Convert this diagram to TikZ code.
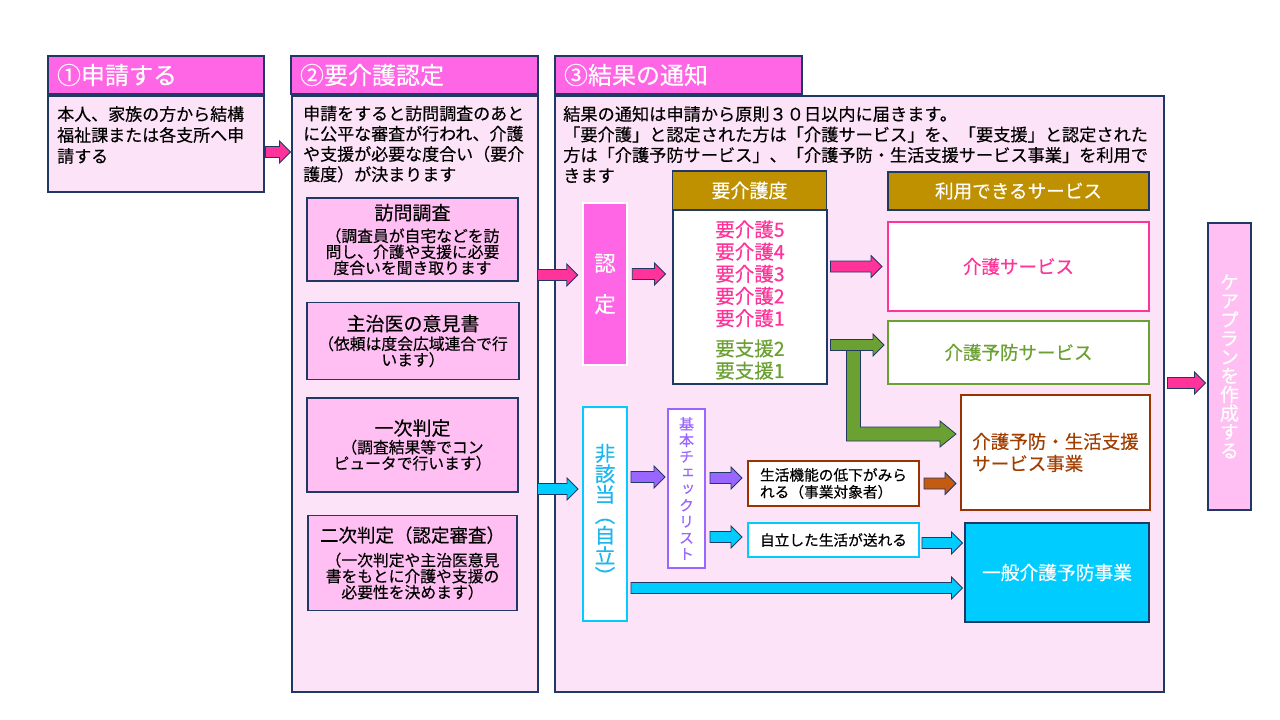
\documentclass[tikz,border=0pt]{standalone}
\usepackage{fontspec}
\setmainfont{Noto Sans CJK JP}[FakeBold=0.35]
\newfontfamily\tatefont[RawFeature=+vert, FakeBold=0.35]{Noto Sans CJK JP}
\usetikzlibrary{calc}
\setlength{\lineskiplimit}{-20pt}
\definecolor{navy}{HTML}{203864}
\definecolor{hdrmag}{HTML}{FF66E6}
\definecolor{bodypink}{HTML}{FDE3F8}
\definecolor{subpink}{HTML}{FFBFF2}
\definecolor{pinkA}{HTML}{FF3399}
\definecolor{gold}{HTML}{BF9000}
\definecolor{leaf}{HTML}{6BA132}
\definecolor{rust}{HTML}{993300}
\definecolor{rusttext}{HTML}{A23D00}
\definecolor{orangeA}{HTML}{C55A11}
\definecolor{cyanA}{HTML}{00CCFF}
\definecolor{cyantext}{HTML}{1DB6EE}
\definecolor{violet}{HTML}{9966FF}

\begin{document}
\begin{tikzpicture}[x=1pt, y=-1pt,
  box/.style={draw=navy, line width=1.1pt, inner sep=0pt, align=center},
  hdr/.style={box, fill=hdrmag, text=white, minimum height=38pt, inner xsep=9pt, align=left, text width=#1, font=\fontsize{24}{28}\selectfont},
  txt/.style={align=left, inner sep=0pt, font=\fontsize{17}{21}\selectfont},
  sub/.style={box, fill=subpink, font=\fontsize{15.8}{16}\selectfont},
  colbox/.style={draw=#1, line width=2pt, fill=white, inner sep=0pt, align=center},
  barrow/.style={draw=navy, line width=0.8pt, fill=#1, to path={
    let \p1=(\tikztostart), \p2=(\tikztotarget) in
    (\x1,\y1+5.5pt) -- (\x2-11pt,\y1+5.5pt) -- (\x2-11pt,\y1+11pt) -- (\x2,\y1)
    -- (\x2-11pt,\y1-11pt) -- (\x2-11pt,\y1-5.5pt) -- (\x1,\y1-5.5pt) -- cycle}},
  elbow/.style={draw=navy, line width=0.8pt, fill=leaf, to path={
    let \p1=(\tikztostart), \p2=(\tikztotarget) in
    (\x1-7pt,\y1) -- (\x1-7pt,\y2-7pt) -- (\x2-16pt,\y2-7pt) -- (\x2-16pt,\y2-13pt) -- (\x2,\y2)
    -- (\x2-16pt,\y2+13pt) -- (\x2-16pt,\y2+7pt) -- (\x1+7pt,\y2+7pt) -- (\x1+7pt,\y1) -- cycle}}]
\useasboundingbox[fill=white] (0,0) rectangle (1280,720);

\node[hdr=198pt] (h1) at (156,75) {①申請する};
\node[box, fill=bodypink, minimum width=216pt, minimum height=96pt] (b1) at (156,144) {};
\node[txt, anchor=west] (t1) at (57,135) {本人、家族の方から結構\\福祉課または各支所へ申\\請する};

\node[hdr=229pt] (h2) at (414.5,75) {②要介護認定};
\node[box, fill=bodypink, minimum width=246pt, minimum height=596pt] (b2) at (415,394) {};
\node[txt, anchor=west, font=\fontsize{17}{20.3}\selectfont] (t2) at (303,144) {申請をすると訪問調査のあと\\に公平な審査が行われ、介護\\や支援が必要な度合い（要介\\護度）が決まります};
\node[sub, minimum width=211pt, minimum height=83pt] (s1) at (412.5,239.5) {{\fontsize{19}{19}\selectfont 訪問調査}\\[6pt]（調査員が自宅などを訪\\問し、介護や支援に必要\\度合いを聞き取ります};
\node[sub, minimum width=212pt, minimum height=77pt] (s2) at (413,341) {{\fontsize{19}{19}\selectfont 主治医の意見書}\\[3pt]（依頼は度会広域連合で行\\います）};
\node[sub, minimum width=211pt, minimum height=94pt] (s3) at (412.5,445) {{\fontsize{19}{19}\selectfont 一次判定}\\[2pt]（調査結果等でコン\\ピュータで行います）};
\node[sub, minimum width=209pt, minimum height=95pt] (s4) at (412.5,563) {{\fontsize{18.5}{19}\selectfont 二次判定（認定審査）}\\[8pt]（一次判定や主治医意見\\書をもとに介護や支援の\\必要性を決めます）};

\node[hdr=229pt] (h3) at (678.5,75) {③結果の通知};
\node[box, fill=bodypink, minimum width=609pt, minimum height=596pt] (b3) at (859.5,394) {};
\node[txt, anchor=west, font=\fontsize{17.2}{20.5}\selectfont] (t3) at (563,144.5) {結果の通知は申請から原則３０日以内に届きます。\\「要介護」と認定された方は「介護サービス」を、「要支援」と認定された\\方は「介護予防サービス」、「介護予防・生活支援サービス事業」を利用で\\きます};

\node[draw=white, line width=2.5pt, fill=hdrmag, text=white, inner sep=0pt, align=center, minimum width=44pt, minimum height=162pt, font=\fontsize{21.5}{41}\selectfont] (nintei) at (605,284) {認\\定};
\node[box, fill=gold, text=white, minimum width=154pt, minimum height=39pt, font=\fontsize{19}{22}\selectfont] (lvlh) at (749.5,190.5) {要介護度};
\node[box, fill=white, minimum width=154pt, minimum height=174pt] (lvl) at (750,297) {};
\node[align=center, inner sep=0pt, font=\fontsize{19.5}{22.2}\selectfont] (lvltx) at (750,300) {\textcolor{pinkA}{要介護5}\\\textcolor{pinkA}{要介護4}\\\textcolor{pinkA}{要介護3}\\\textcolor{pinkA}{要介護2}\\\textcolor{pinkA}{要介護1}\\[8pt]\textcolor{leaf}{要支援2}\\\textcolor{leaf}{要支援1}};
\node[box, fill=gold, text=white, minimum width=261pt, minimum height=38pt, font=\fontsize{18.6}{22}\selectfont] (srvh) at (1018.5,191) {利用できるサービス};
\node[colbox=pinkA, text=pinkA, minimum width=261pt, minimum height=89pt, font=\fontsize{18.5}{22}\selectfont] (ksv) at (1018.5,266.5) {介護サービス};
\node[colbox=leaf, text=leaf, minimum width=261pt, minimum height=63pt, font=\fontsize{18.5}{22}\selectfont] (ysv) at (1018.5,352.5) {介護予防サービス};
\node[colbox=rust, text=rusttext, align=left, minimum width=189pt, minimum height=115pt, font=\fontsize{18.5}{22}\selectfont] (yob) at (1055.5,452.5) {介護予防・生活支援\\サービス事業};

\node[colbox=cyanA, text=cyantext, minimum width=44pt, minimum height=214pt, font=\tatefont\fontsize{20.5}{20.5}\selectfont] (hgt) at (605,514) {非\\該\\当\\（\\自\\立\\）};
\node[colbox=violet, text=violet, minimum width=37pt, minimum height=159pt, font=\tatefont\fontsize{15}{16.25}\selectfont] (chk) at (686.5,488.5) {基\\本\\チ\\ェ\\ッ\\ク\\リ\\ス\\ト};
\node[colbox=rust, align=left, minimum width=171pt, minimum height=45pt, font=\fontsize{14.7}{17}\selectfont] (fun) at (833.5,483.5) {生活機能の低下がみら\\れる（事業対象者）};
\node[colbox=cyanA, minimum width=171pt, minimum height=34pt, font=\fontsize{14.7}{17}\selectfont] (jir) at (833.5,540) {自立した生活が送れる};
\node[box, fill=cyanA, text=white, minimum width=184pt, minimum height=99pt, font=\fontsize{18.75}{22}\selectfont] (ippan) at (1057,572.5) {一般介護予防事業};

\node[box, fill=subpink, text=white, minimum width=43pt, minimum height=287pt, font=\tatefont\fontsize{19}{18.7}\selectfont] (care) at (1229.5,366.5) {ケ\\ア\\プ\\ラ\\ン\\を\\作\\成\\す\\る};

\draw[barrow=pinkA] ($(b1.east)+(1,8)$) to ($(b2.west)+(-1,0)$);
\draw[barrow=pinkA] ($(b2.east |- nintei.west)+(-1,-9)$) to ($(nintei.west)+(-4,0)$);
\draw[barrow=pinkA] ($(nintei.east)+(4,-10)$) to ($(lvl.west)+(-7,0)$);
\draw[barrow=pinkA] ($(lvl.east |- ksv.west)+(3,0)$) to ($(ksv.west)+(-5,0)$);
\coordinate (gfork) at ($(lvl.east |- ysv.west)+(26,-7.5)$);
\draw[elbow] (gfork) to ($(yob.west)+(-4,-18.5)$);
\draw[barrow=leaf] ($(lvl.east |- ysv.west)+(3,-7.5)$) to ($(ysv.west)+(-3,0)$);
\draw[barrow=pinkA] ($(b3.east |- care.west)+(3,16.5)$) to ($(care.west)+(-2,0)$);
\draw[barrow=cyanA] ($(b2.east |- hgt.west)+(-1,-25)$) to ($(hgt.west)+(-4,0)$);
\draw[barrow=violet] ($(hgt.east |- chk.west)+(3,-11.5)$) to ($(chk.west)+(-2,0)$);
\draw[barrow=violet] ($(chk.east |- fun.west)+(4,-5.5)$) to ($(fun.west)+(-5,0)$);
\draw[barrow=cyanA] ($(chk.east |- jir.west)+(4,-3)$) to ($(jir.west)+(-5,0)$);
\draw[barrow=orangeA] ($(fun.east)+(4,0)$) to ($(yob.west)+(-4,0)$);
\draw[barrow=cyanA] ($(jir.east)+(2,3)$) to ($(ippan.west)+(-2,0)$);
\draw[barrow=cyanA] ($(hgt.east |- ippan.west)+(3,15.5)$) to ($(ippan.west)+(-2,0)$);
\end{tikzpicture}
\end{document}
